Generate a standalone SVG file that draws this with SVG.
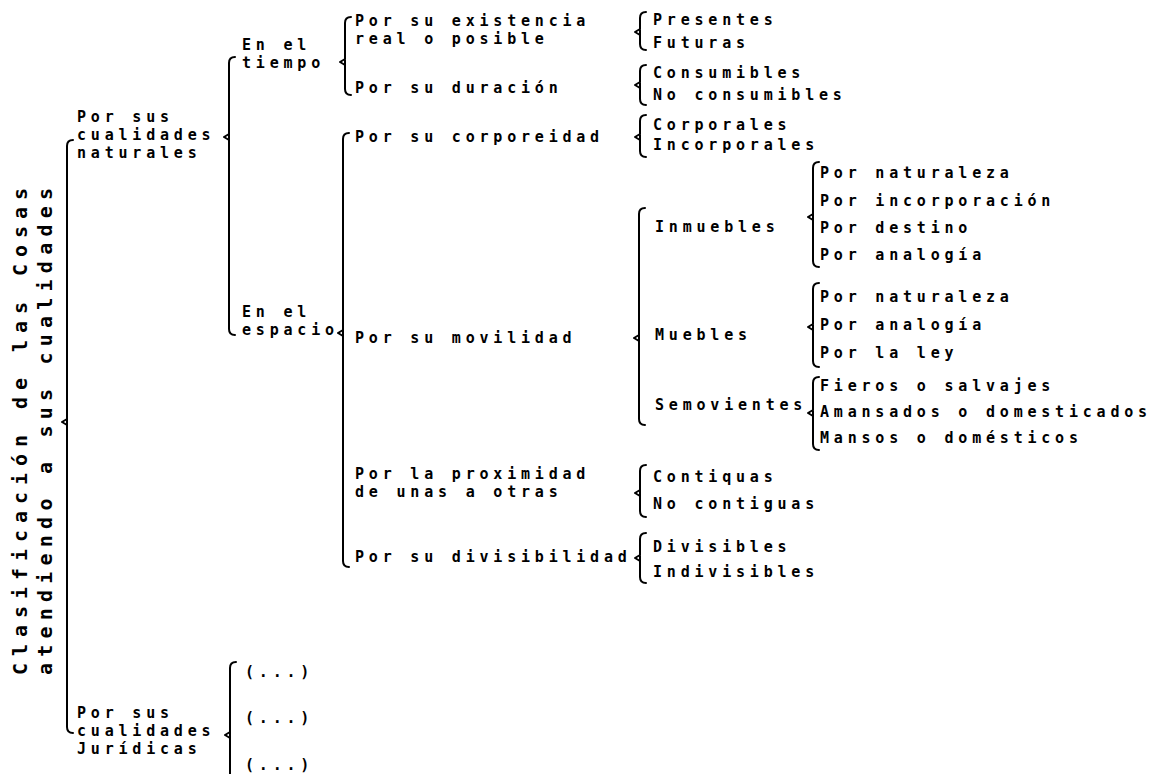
<svg xmlns="http://www.w3.org/2000/svg" width="1156" height="774" viewBox="0 0 1156 774">
<style>
text{font-family:"DejaVu Sans Mono","Liberation Mono",monospace;font-weight:bold;font-size:15px;letter-spacing:4.8px;fill:#000}
.title{font-size:20px;letter-spacing:0}
.br{fill:none;stroke:#000;stroke-width:2;stroke-linecap:round;stroke-linejoin:round}
</style>
<rect width="1156" height="774" fill="#fff"/>
<g id="connectors">
<path class="br" d="M73,140 Q67,140 67,146 L67,727 Q67,733 73,733 M67,419 L62,422 L67,425"/>
<path class="br" d="M235,57 Q229,57 229,63 L229,329 Q229,335 235,335 M229,134 L224,137 L229,140"/>
<path class="br" d="M236,662 Q230,662 230,668 L230,790 M230,732 L225,735 L230,738"/>
<path class="br" d="M351,17 Q345,17 345,23 L345,89 Q345,95 351,95 M345,59 L340,62 L345,65"/>
<path class="br" d="M349,133 Q343,133 343,139 L343,561 Q343,567 349,567 M343,330 L338,333 L343,336"/>
<path class="br" d="M646,12 Q640,12 640,18 L640,44 Q640,50 646,50 M640,29 L635,32 L640,35"/>
<path class="br" d="M646,65 Q640,65 640,71 L640,99 Q640,105 646,105 M640,82 L635,85 L640,88"/>
<path class="br" d="M646,115 Q640,115 640,121 L640,151 Q640,157 646,157 M640,134 L635,137 L640,140"/>
<path class="br" d="M645,208 Q639,208 639,214 L639,419 Q639,425 645,425 M639,335 L634,338 L639,341"/>
<path class="br" d="M819,162 Q813,162 813,168 L813,261 Q813,267 819,267 M813,214 L808,217 L813,220"/>
<path class="br" d="M819,283 Q813,283 813,289 L813,361 Q813,367 819,367 M813,324 L808,327 L813,330"/>
<path class="br" d="M819,377 Q813,377 813,383 L813,444 Q813,450 819,450 M813,410 L808,413 L813,416"/>
<path class="br" d="M646,465 Q640,465 640,471 L640,511 Q640,517 646,517 M640,490 L635,493 L640,496"/>
<path class="br" d="M646,533 Q640,533 640,539 L640,577 Q640,583 646,583 M640,555 L635,558 L640,561"/>
</g>
<g id="root">
<text class="title" transform="translate(27,675) rotate(-90)" textLength="487" lengthAdjust="spacing">Clasificación de las Cosas</text>
<text class="title" transform="translate(52,675) rotate(-90)" textLength="487" lengthAdjust="spacing">atendiendo a sus cualidades</text>
</g>
<g id="naturales">
<text x="77" y="122">Por sus</text>
<text x="77" y="140">cualidades</text>
<text x="77" y="158">naturales</text>
</g>
<g id="juridicas">
<text x="77" y="718">Por sus</text>
<text x="77" y="736">cualidades</text>
<text x="77" y="754">Jurídicas</text>
</g>
<g id="juridicas-items">
<text x="245" y="677">(...)</text>
<text x="245" y="723">(...)</text>
<text x="245" y="770">(...)</text>
</g>
<g id="tiempo">
<text x="242" y="50">En el</text>
<text x="242" y="68">tiempo</text>
</g>
<g id="espacio">
<text x="242" y="317">En el</text>
<text x="242" y="335">espacio</text>
</g>
<g id="existencia">
<text x="355" y="26">Por su existencia</text>
<text x="355" y="44">real o posible</text>
</g>
<g id="duracion"><text x="355" y="93">Por su duración</text></g>
<g id="corporeidad"><text x="355" y="142">Por su corporeidad</text></g>
<g id="movilidad"><text x="355" y="343">Por su movilidad</text></g>
<g id="proximidad">
<text x="355" y="479">Por la proximidad</text>
<text x="355" y="497">de unas a otras</text>
</g>
<g id="divisibilidad"><text x="355" y="562">Por su divisibilidad</text></g>
<g id="existencia-items">
<text x="653" y="25">Presentes</text>
<text x="653" y="48">Futuras</text>
</g>
<g id="duracion-items">
<text x="653" y="78">Consumibles</text>
<text x="653" y="100">No consumibles</text>
</g>
<g id="corporeidad-items">
<text x="653" y="130">Corporales</text>
<text x="653" y="150">Incorporales</text>
</g>
<g id="inmuebles"><text x="655" y="232">Inmuebles</text></g>
<g id="muebles"><text x="655" y="340">Muebles</text></g>
<g id="semovientes"><text x="655" y="410">Semovientes</text></g>
<g id="inmuebles-items">
<text x="820" y="178">Por naturaleza</text>
<text x="820" y="206">Por incorporación</text>
<text x="820" y="233">Por destino</text>
<text x="820" y="260">Por analogía</text>
</g>
<g id="muebles-items">
<text x="820" y="302">Por naturaleza</text>
<text x="820" y="330">Por analogía</text>
<text x="820" y="358">Por la ley</text>
</g>
<g id="semovientes-items">
<text x="820" y="391">Fieros o salvajes</text>
<text x="820" y="417">Amansados o domesticados</text>
<text x="820" y="443">Mansos o domésticos</text>
</g>
<g id="proximidad-items">
<text x="653" y="482">Contiquas</text>
<text x="653" y="509">No contiguas</text>
</g>
<g id="divisibilidad-items">
<text x="653" y="552">Divisibles</text>
<text x="653" y="577">Indivisibles</text>
</g>
</svg>
